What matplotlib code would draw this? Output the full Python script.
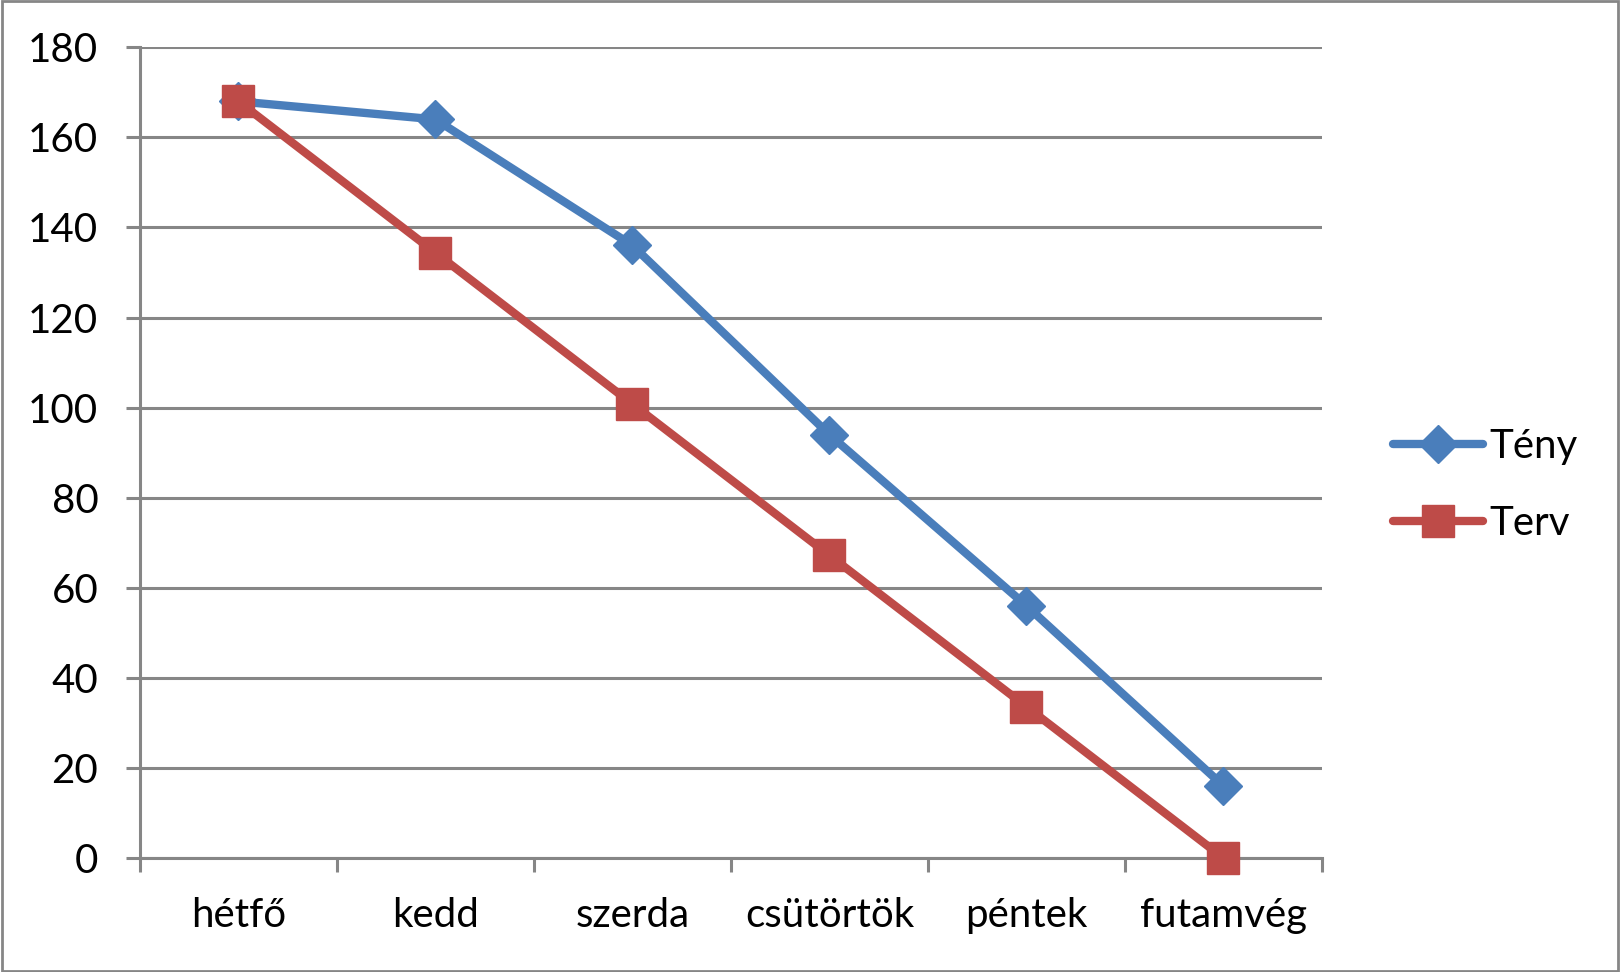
import matplotlib
matplotlib.use("Agg")
import matplotlib.pyplot as plt
from matplotlib.patches import Rectangle
from matplotlib.ticker import FixedLocator

plt.rcParams['font.family'] = ['Lato', 'DejaVu Sans']

days = ['hétfő', 'kedd', 'szerda', 'csütörtök', 'péntek', 'futamvég']
teny = [168, 164, 136, 94, 56, 16]
terv = [168, 134.4, 100.8, 67.2, 33.6, 0]
y_ticks = [0, 20, 40, 60, 80, 100, 120, 140, 160, 180]

grey = '#868686'
blue = '#4A7EBB'
red = '#BE4B48'

fig = plt.figure(figsize=(16.2, 9.72), dpi=100)
ax = fig.add_axes([0.0864, 0.1173, 0.7296, 0.834])

x = list(range(len(days)))
ax.plot(x, teny, color=blue, lw=6, marker='D', markersize=19,
        solid_capstyle='round', clip_on=False, zorder=3, label='Tény')
ax.plot(x, terv, color=red, lw=6, marker='s', markersize=23.5,
        solid_capstyle='round', clip_on=False, zorder=4, label='Terv')

ax.set_xlim(-0.5, len(days) - 0.5)
ax.set_ylim(0, 180)
ax.set_yticks(y_ticks)
ax.set_xticks(x)
ax.set_xticklabels(days)
ax.xaxis.set_minor_locator(FixedLocator([i - 0.5 for i in range(len(days) + 1)]))
ax.yaxis.grid(True, color=grey, lw=2.2)
ax.set_axisbelow(True)

for s in ['top', 'right']:
    ax.spines[s].set_visible(False)
for s in ['left', 'bottom']:
    ax.spines[s].set_color(grey)
    ax.spines[s].set_linewidth(2.2)

ax.tick_params(axis='y', length=10, width=2.2, color=grey, labelsize=29, pad=20)
ax.tick_params(axis='x', which='major', length=0, labelsize=29, pad=28)
ax.tick_params(axis='x', which='minor', length=10, width=2.2, color=grey)

leg = ax.legend(loc='center left', bbox_to_anchor=(1.06, 0.46), frameon=False,
                fontsize=29, handlelength=2.25, handletextpad=0.15,
                labelspacing=1.0, borderaxespad=0, borderpad=0)

fig.patches.append(Rectangle((0.001, 0.001), 0.998, 0.998, transform=fig.transFigure,
                             fill=False, edgecolor=grey, lw=2))

fig.savefig('out.png', dpi=100)
